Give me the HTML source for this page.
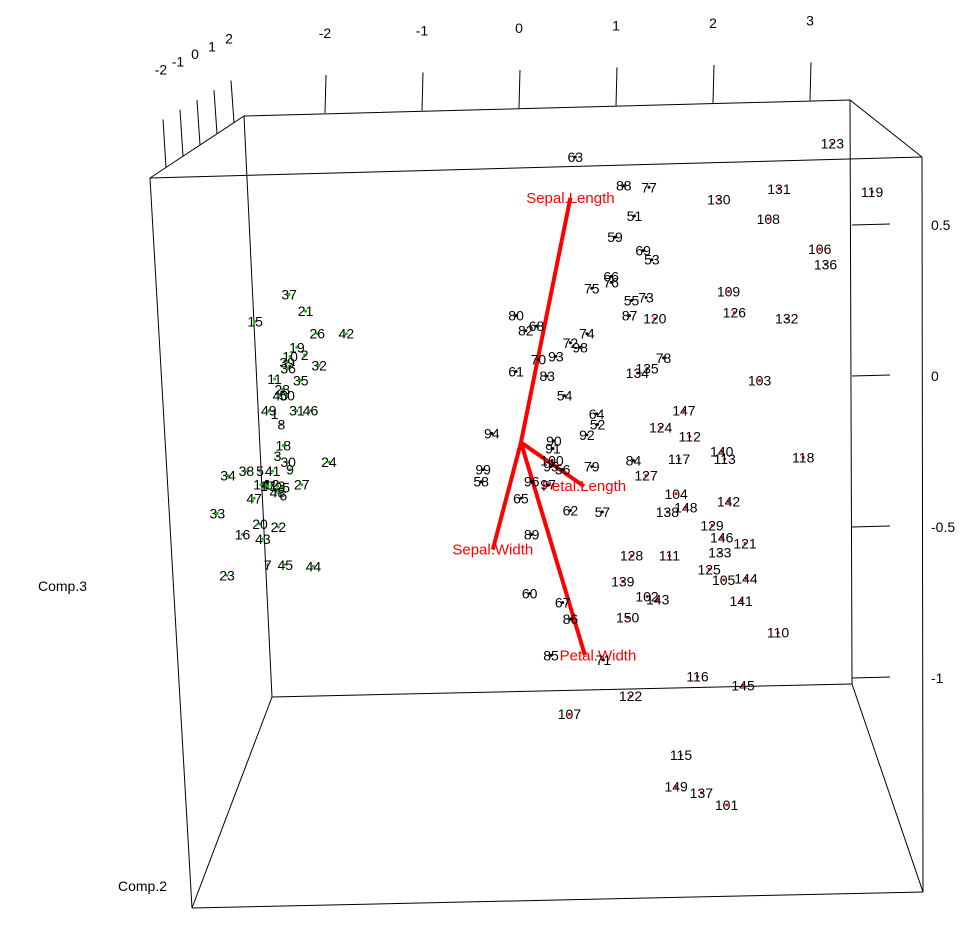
<!DOCTYPE html>
<html><head><meta charset="utf-8">
<style>
html,body{margin:0;padding:0;background:#fff;}
svg{display:block;font-family:"Liberation Sans",sans-serif;}
</style></head>
<body>
<svg id="plot" width="967" height="928" viewBox="0 0 967 928">
<g id="box" stroke="#000" stroke-width="1" fill="none">
  <polyline points="150,178 244,116 850,100 922,157"/>
  <line x1="150" y1="178" x2="922" y2="157"/>
  <line x1="150" y1="178" x2="192" y2="908"/>
  <line x1="922" y1="157" x2="923" y2="892"/>
  <line x1="192" y1="908" x2="923" y2="892"/>
  <line x1="244" y1="116" x2="272" y2="697"/>
  <line x1="850" y1="100" x2="852" y2="684"/>
  <line x1="272" y1="697" x2="852" y2="684"/>
  <line x1="192" y1="908" x2="272" y2="697"/>
  <line x1="923" y1="892" x2="852" y2="684"/>
</g>
<g id="axes" font-size="14" fill="#000"></g>
<g id="arrows"></g>
<g id="pts" font-size="14"></g>
<text x="38" y="591" font-size="14">Comp.3</text>
<text x="118" y="891" font-size="14">Comp.2</text>
</svg>
<script>
// Comp.1 / Comp.3 projected scores
const setosaLabels=[37,21,15,26,42,19,10,2,32,39,36,11,35,28,40,50,49,1,31,46,8,18,3,30,9,24,34,38,5,41,14,4,12,13,25,48,17,6,27,47,33,20,22,16,43,7,45,44,23];
const setosaX=[-2.37,-2.20,-2.72,-2.08,-1.78,-2.29,-2.36,-2.21,-2.06,-2.39,-2.38,-2.52,-2.25,-2.44,-2.46,-2.39,-2.58,-2.52,-2.29,-2.15,-2.45,-2.43,-2.49,-2.38,-2.36,-1.96,-3.00,-2.81,-2.67,-2.54,-2.66,-2.61,-2.55,-2.49,-2.44,-2.49,-2.59,-2.43,-2.24,-2.73,-3.11,-2.67,-2.48,-2.85,-2.64,-2.59,-2.41,-2.12,-3.01];
const setosaY=[0.54,0.43,0.36,0.28,0.28,0.19,0.13,0.14,0.07,0.09,0.05,-0.02,-0.03,-0.09,-0.13,-0.13,-0.23,-0.25,-0.23,-0.23,-0.32,-0.46,-0.53,-0.57,-0.62,-0.57,-0.66,-0.63,-0.63,-0.63,-0.72,-0.72,-0.72,-0.73,-0.74,-0.77,-0.73,-0.79,-0.72,-0.81,-0.91,-0.98,-1.00,-1.05,-1.08,-1.25,-1.25,-1.26,-1.32];
const versiLabels=[63,88,77,51,59,69,53,66,76,75,55,73,87,80,82,68,74,72,98,93,70,61,83,54,64,52,92,94,90,91,100,95,56,79,84,99,58,96,97,65,62,57,89,60,67,86,85,71,78];
const versiX=[0.58,1.08,1.34,1.19,0.99,1.28,1.37,0.95,0.95,0.75,1.16,1.31,1.14,-0.03,0.07,0.18,0.70,0.53,0.63,0.38,0.20,-0.03,0.29,0.47,0.80,0.81,0.70,-0.28,0.36,0.35,0.34,0.33,0.45,0.75,1.18,-0.37,-0.39,0.13,0.30,0.02,0.53,0.86,0.13,0.11,0.45,0.53,0.33,0.87,1.49];
const versiY=[1.45,1.26,1.25,1.06,0.92,0.83,0.77,0.66,0.62,0.58,0.50,0.52,0.40,0.40,0.30,0.33,0.28,0.22,0.19,0.13,0.11,0.03,0.00,-0.13,-0.25,-0.32,-0.39,-0.38,-0.43,-0.48,-0.56,-0.60,-0.62,-0.60,-0.56,-0.62,-0.70,-0.70,-0.72,-0.81,-0.89,-0.90,-1.05,-1.44,-1.50,-1.61,-1.85,-1.88,0.12];
const virgLabels=[123,119,130,131,108,106,136,109,126,132,120,135,134,103,147,124,112,140,117,113,118,127,104,138,148,142,129,146,121,133,128,111,125,105,144,139,102,143,141,150,110,116,145,122,107,115,149,137,101];
const virgX=[3.23,3.64,2.06,2.68,2.57,3.10,3.16,2.16,2.22,2.76,1.40,1.32,1.22,2.48,1.70,1.46,1.76,2.09,1.65,2.12,2.93,1.31,1.62,1.53,1.72,2.16,1.99,2.09,2.33,2.07,1.16,1.55,1.96,2.11,2.34,1.07,1.32,1.43,2.29,1.12,2.67,1.84,2.31,1.15,0.52,1.67,1.62,1.88,2.14];
const virgY=[1.54,1.22,1.17,1.24,1.04,0.84,0.74,0.56,0.42,0.38,0.38,0.05,0.02,-0.03,-0.23,-0.34,-0.40,-0.50,-0.55,-0.55,-0.54,-0.66,-0.78,-0.90,-0.87,-0.83,-0.99,-1.07,-1.11,-1.17,-1.19,-1.19,-1.28,-1.35,-1.34,-1.36,-1.46,-1.48,-1.49,-1.60,-1.70,-1.99,-2.05,-2.12,-2.24,-2.51,-2.72,-2.76,-2.84];
const loadNames=["Sepal.Length","Sepal.Width","Petal.Length","Petal.Width"];
const loadX=[0.53,-0.27,0.67,0.68];
const loadY=[1.18,-1.15,-0.73,-1.85];
const originXY=[0.02,-0.44];
const topTicks=[-2,-1,0,1,2,3];
const rightTicks=[0.5,0,-0.5,-1];
const leftTicks=[-2,-1,0,1,2];

const NS="http://www.w3.org/2000/svg";
const sx=v=>519+97*v;
const sy=v=>376-151*v;
const ry=v=>376-302*v;
function mk(tag,attrs,parent){const e=document.createElementNS(NS,tag);for(const k in attrs)e.setAttribute(k,attrs[k]);parent.appendChild(e);return e;}
const axes=document.getElementById('axes');
topTicks.forEach((t,i)=>{
  const x=sx(t), yb=113-(x-325)*0.026;
  const l=mk('line',{x1:x,y1:yb,x2:x+1,y2:yb-38,stroke:'#000'},axes);
  
  
  const tx=mk('text',{x:x,y:yb-75,'text-anchor':'middle'},axes);tx.textContent=t;
  
  
});
rightTicks.forEach(t=>{
  const y=ry(t);
  const l=mk('line',{x1:852,y1:y,x2:890,y2:y-1,stroke:'#000'},axes);
  
  
  const tx=mk('text',{x:931,y:y+5},axes);tx.textContent=t;
  
  
});
leftTicks.forEach((t,i)=>{
  const x=166+17*(t+2), y=178-(x-150)*62/94;
  const top=y-48+(t+2)*1.5;
  const l=mk('line',{x1:x,y1:y,x2:x-3,y2:top,stroke:'#000'},axes);
  
  
  const tx=mk('text',{x:x-5,y:top-45+(t+2)*2,'text-anchor':'middle'},axes);tx.textContent=t;
  
  
});
const arrows=document.getElementById('arrows');
const ox=sx(originXY[0]), oy=sy(originXY[1]);
loadNames.forEach((n,i)=>{
  const l=mk('line',{x1:ox,y1:oy,x2:sx(loadX[i]),y2:sy(loadY[i]),stroke:'#ff0000','stroke-width':4},arrows);
  
  
});
loadNames.forEach((n,i)=>{
  const dx=i===3?13:0;
  const t=mk('text',{x:sx(loadX[i])+dx,y:sy(loadY[i])+5,'text-anchor':'middle',fill:'#ff0000','font-size':15},arrows);
  t.textContent=n;
  
  
});
const pts=document.getElementById('pts');
function series(labels,xs,ys,col,name){
  labels.forEach((lab,i)=>{
    const x=sx(xs[i]), y=sy(ys[i]);
    const d=mk('circle',{cx:x,cy:y,r:1.5,fill:col},pts);
    
    
    const t=mk('text',{x:x,y:y+5,'text-anchor':'middle',fill:'#000'},pts);
    t.textContent=lab;
    
    
  });
}
series(setosaLabels,setosaX,setosaY,'#00cc00','setosa');
series(versiLabels,versiX,versiY,'#000','versicolor');
series(virgLabels,virgX,virgY,'#ff0000','virginica');
</script>
</body></html>
